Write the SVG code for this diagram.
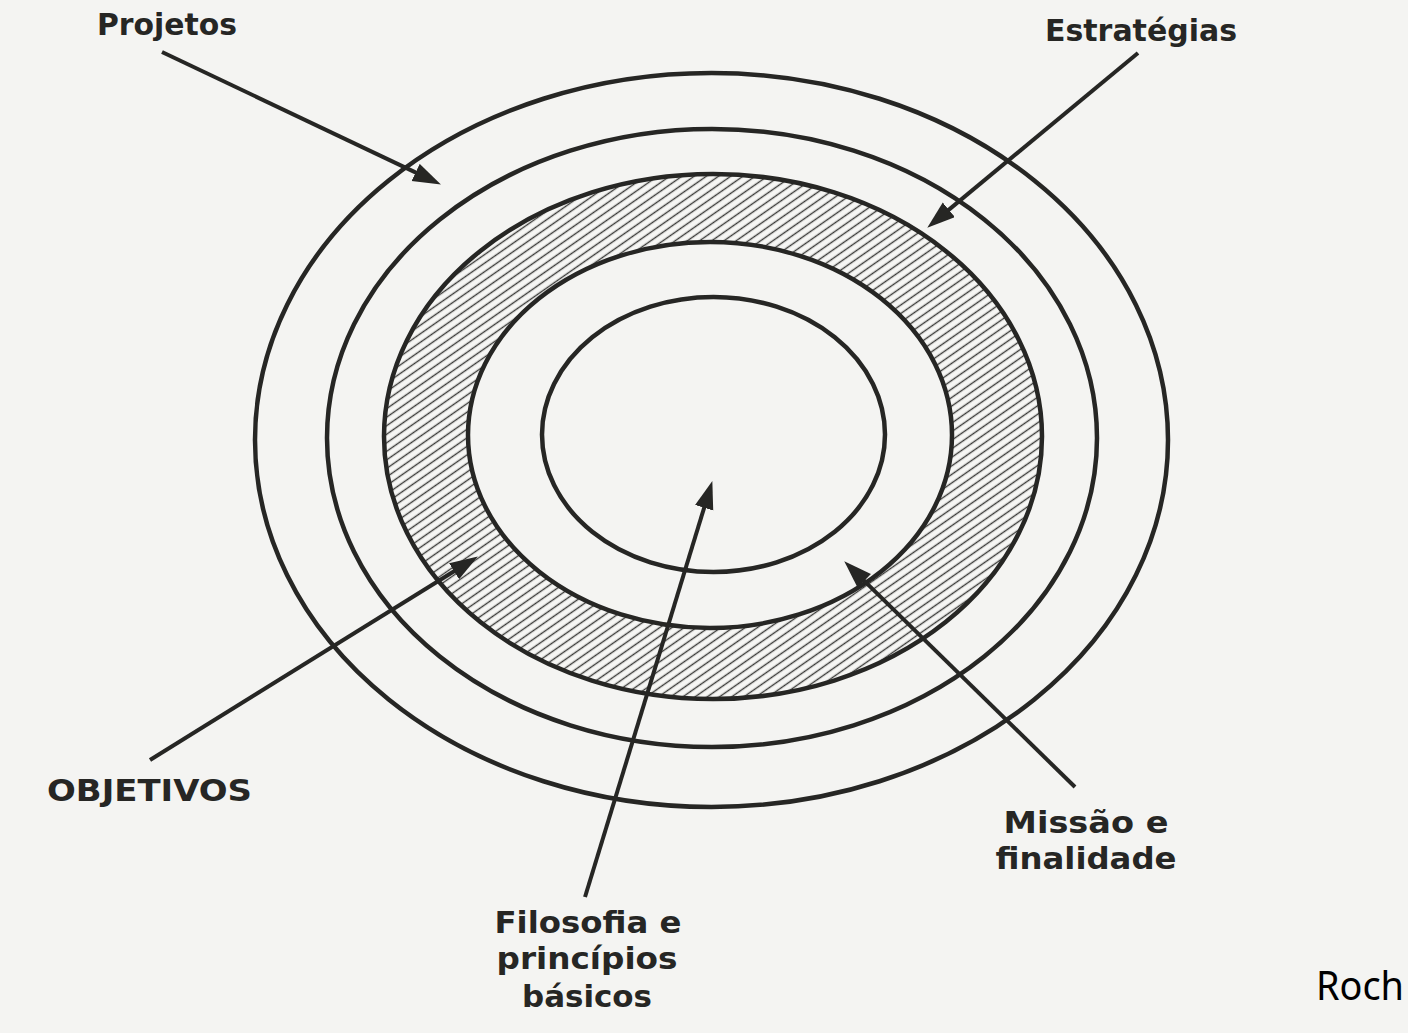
<svg xmlns="http://www.w3.org/2000/svg" width="1408" height="1033" viewBox="0 0 1408 1033">
<style>
.ring{fill:none;stroke:#262624;stroke-width:4.5}
.conn{fill:none;stroke:#262624;stroke-width:4}
.lbl{font-family:"DejaVu Sans","Liberation Sans",Arial,sans-serif;font-weight:bold;font-size:30px;fill:#262624}
.note{font-family:"Noto Sans","Liberation Sans",sans-serif;font-size:40px;fill:#000}
</style>
<defs>
<pattern id="hatch" patternUnits="userSpaceOnUse" width="7" height="7" patternTransform="rotate(-35)">
<rect width="7" height="7" fill="#f6f6f4"/>
<line x1="0" y1="3.5" x2="7" y2="3.5" stroke="#3a3a38" stroke-width="1.4"/>
</pattern>
<marker id="arr" markerUnits="userSpaceOnUse" markerWidth="30" markerHeight="20" refX="19" refY="9.5" orient="auto">
<path d="M0,0 L28,9.5 L0,19 z" fill="#262624"/>
</marker>
</defs>
<rect width="1408" height="1033" fill="#f4f4f2"/>
<g id="ring-projetos"><ellipse class="ring" cx="711.5" cy="440" rx="456.5" ry="367"/></g>
<g id="ring-estrategias"><ellipse class="ring" cx="712" cy="438" rx="385" ry="309"/></g>
<g id="ring-objetivos">
<path d="M384,436.5 a329,262.5 0 1,0 658,0 a329,262.5 0 1,0 -658,0 z M468,435 a242,193 0 1,0 484,0 a242,193 0 1,0 -484,0 z" fill="url(#hatch)" fill-rule="evenodd"/>
<ellipse class="ring" cx="713" cy="436.5" rx="329" ry="262.5"/>
<ellipse class="ring" cx="710" cy="435" rx="242" ry="193"/>
</g>
<g id="ring-filosofia"><ellipse class="ring" cx="713.5" cy="434.5" rx="171.5" ry="137.5"/></g>
<g id="connectors">
<line class="conn" x1="162" y1="52" x2="432.8" y2="180.6" marker-end="url(#arr)"/>
<line class="conn" x1="1138" y1="53" x2="934.2" y2="221.9" marker-end="url(#arr)"/>
<line class="conn" x1="150" y1="760" x2="470.2" y2="561.2" marker-end="url(#arr)"/>
<line class="conn" x1="585" y1="897" x2="709.7" y2="489.6" marker-end="url(#arr)"/>
<line class="conn" x1="1075" y1="787" x2="850.7" y2="567.6" marker-end="url(#arr)"/>
</g>
<g id="label-projetos"><text class="lbl" x="97" y="35" textLength="140" lengthAdjust="spacingAndGlyphs">Projetos</text></g>
<g id="label-estrategias"><text class="lbl" x="1045" y="41" textLength="192" lengthAdjust="spacingAndGlyphs">Estratégias</text></g>
<g id="label-objetivos"><text class="lbl" x="47" y="801" textLength="205" lengthAdjust="spacingAndGlyphs">OBJETIVOS</text></g>
<g id="label-missao">
<text class="lbl" x="1086" y="833" text-anchor="middle" textLength="165" lengthAdjust="spacingAndGlyphs">Missão e</text>
<text class="lbl" x="1086" y="869" text-anchor="middle" textLength="181" lengthAdjust="spacingAndGlyphs">finalidade</text>
</g>
<g id="label-filosofia">
<text class="lbl" x="588" y="933" text-anchor="middle" textLength="187" lengthAdjust="spacingAndGlyphs">Filosofia e</text>
<text class="lbl" x="587" y="969" text-anchor="middle" textLength="181" lengthAdjust="spacingAndGlyphs">princípios</text>
<text class="lbl" x="587" y="1007" text-anchor="middle" textLength="130" lengthAdjust="spacingAndGlyphs">básicos</text>
</g>
<text class="note" x="1316" y="1000" textLength="88" lengthAdjust="spacingAndGlyphs">Roch</text>
</svg>
